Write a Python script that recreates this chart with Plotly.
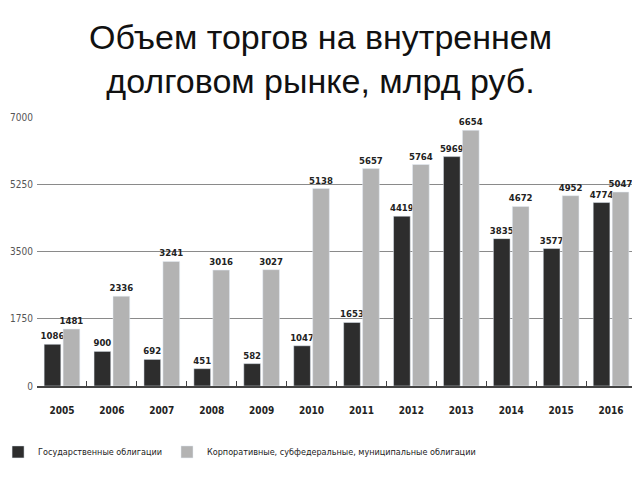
import plotly.graph_objects as go

years = ["2005", "2006", "2007", "2008", "2009", "2010", "2011", "2012", "2013", "2014", "2015", "2016"]
gov = [1086, 900, 692, 451, 582, 1047, 1653, 4419, 5969, 3835, 3577, 4774]
corp = [1481, 2336, 3241, 3016, 3027, 5138, 5657, 5764, 6654, 4672, 4952, 5047]
tick_vals = [0, 1750, 3500, 5250, 7000]
name_gov = "Государственные облигации"
name_corp = "Корпоративные, субфедеральные, муниципальные облигации"
title_text = "Объем торгов на внутреннем<br>долговом рынке, млрд руб."

font_c = "DejaVu Sans Condensed, sans-serif"

fig = go.Figure()
fig.add_trace(go.Bar(x=years, y=gov, name=name_gov, marker_color="#2d2d2d",
                     text=gov, textposition="outside", constraintext="none",
                     textfont=dict(family=font_c, size=9.5, color="#222", weight="bold"),
                     cliponaxis=False))
fig.add_trace(go.Bar(x=years, y=corp, name=name_corp, marker_color="#b3b3b3",
                     text=corp, textposition="outside", constraintext="none",
                     textfont=dict(family=font_c, size=9.5, color="#222", weight="bold"),
                     cliponaxis=False))

fig.add_annotation(text=title_text, xref="paper", yref="paper", x=0.474, y=1.375,
                   xanchor="center", yanchor="top", showarrow=False,
                   font=dict(family="Liberation Sans, Arial, sans-serif", size=34, color="#111"))

# page body has an 8px margin, so the figure is sized to fill the remaining window
fig.update_layout(
    width=632, height=472,
    paper_bgcolor="white", plot_bgcolor="white",
    margin=dict(l=29, r=4, t=109, b=94, autoexpand=False),
    barmode="group", bargap=0.24, bargroupgap=0.12,
    xaxis=dict(type="category", showgrid=False, showline=True, linecolor="#444", linewidth=1.5,
               ticks="inside", tickson="boundaries", ticklen=5, tickcolor="#444",
               tickfont=dict(family=font_c, size=10, color="#222", weight="bold"),
               ticklabelstandoff=14, automargin=False),
    yaxis=dict(range=[0, 7000], tickvals=tick_vals, showgrid=True, gridcolor="#8a8a8a",
               gridwidth=1.3, zeroline=False, showline=False, automargin=False,
               tickfont=dict(family=font_c, size=10, color="#555"), ticklabelstandoff=3),
    showlegend=True,
    legend=dict(orientation="h", x=-0.065, xanchor="left", y=-0.245, yanchor="middle",
                font=dict(family=font_c, size=9, color="#222"),
                itemwidth=30, tracegroupgap=0),
)

fig.write_html("out.html")
